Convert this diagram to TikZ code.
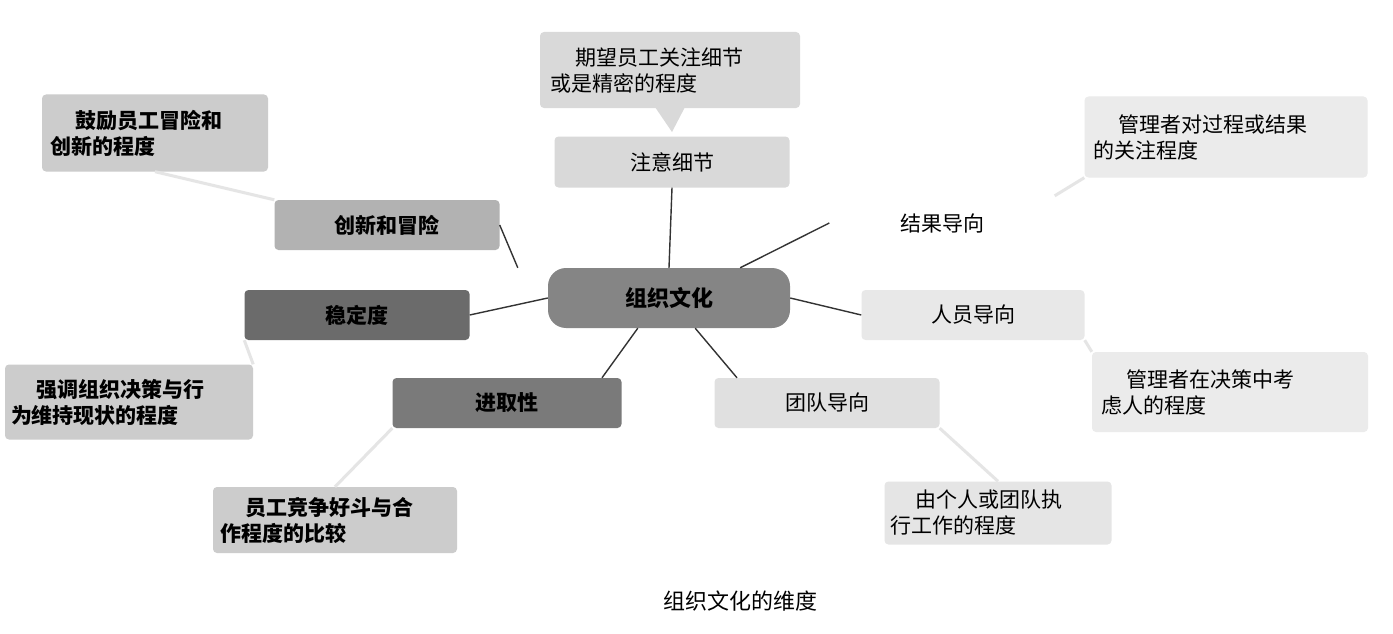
\documentclass[tikz,border=0pt]{standalone}
\usepackage{fontspec}
\setmainfont{Noto Sans CJK SC}
\usetikzlibrary{shapes.callouts}
\begin{document}
\begin{tikzpicture}[x=1pt,y=-1pt,
  box/.style={rounded corners=4pt,inner sep=0pt,font=\fontsize{21}{26}\selectfont,align=left},
  dim/.style={box,text width=#1-20pt,inner xsep=10pt},
  link/.style={line width=1.4pt,black!80},
  faint/.style={line width=3pt,black!10}]
\useasboundingbox[fill=white] (0,0) rectangle (1393,634);
% main boxes
\node[box,fill=black!48,rounded corners=18pt,minimum width=242pt,minimum height=60pt,font=\fontsize{22}{26}\selectfont\bfseries] (c) at (669,298) {组织文化};
\node[box,fill=black!15,minimum width=235pt,minimum height=51pt] (zy) at (672,162) {注意细节};
\node[box,fill=black!30,minimum width=225pt,minimum height=50pt,font=\fontsize{21}{26}\selectfont\bfseries] (cx) at (387,225) {创新和冒险};
\node[box,fill=black!58,minimum width=225pt,minimum height=50pt,font=\fontsize{21}{26}\selectfont\bfseries] (wd) at (357,315) {稳定度};
\node[box,fill=black!52,minimum width=229pt,minimum height=50pt,font=\fontsize{21}{26}\selectfont\bfseries] (jq) at (507,403) {进取性};
\node[box,fill=white,minimum width=225pt,minimum height=54pt] (jg) at (942,223) {结果导向};
\node[box,fill=black!9,minimum width=223pt,minimum height=50pt] (ry) at (973,315) {人员导向};
\node[box,fill=black!12,minimum width=225pt,minimum height=50pt] (td) at (827,403) {团队导向};
% descriptions
\node[box,fill=black!15,minimum width=260pt,minimum height=76pt,text width=240pt] (d1) at (670,70) {\hspace*{1.2em}期望员工关注细节\\或是精密的程度};
\fill[black!15] (655,107) -- (685,107) -- (672,132) -- cycle;
\node[box,fill=black!20,minimum width=226pt,minimum height=77pt,text width=210pt] (d2) at (155,133) {\hspace*{1.2em}\textbf{鼓励员工冒险和}\\\textbf{创新的程度}};
\node[box,fill=black!20,minimum width=248pt,minimum height=75pt,text width=236pt] (d3) at (129,402) {\hspace*{1.2em}\textbf{强调组织决策与行}\\\textbf{为维持现状的程度}};
\node[box,fill=black!20,minimum width=244pt,minimum height=66pt,text width=230pt] (d4) at (335,520) {\hspace*{1.2em}\textbf{员工竞争好斗与合}\\\textbf{作程度的比较}};
\node[box,fill=black!8,minimum width=283pt,minimum height=81pt,text width=265pt] (d5) at (1226,137) {\hspace*{1.2em}管理者对过程或结果\\的关注程度};
\node[box,fill=black!8,minimum width=276pt,minimum height=80pt,text width=258pt] (d6) at (1230,392) {\hspace*{1.2em}管理者在决策中考\\虑人的程度};
\node[box,fill=black!10,minimum width=227pt,minimum height=63pt,text width=215pt] (d7) at (998,513) {\hspace*{1.2em}由个人或团队执\\行工作的程度};
% faint links
\draw[faint] (d2.south) -- (cx.north west);
\draw[faint] (d3.north east) -- (wd.south west);
\draw[faint] (d4.north) -- (jq.south west);
\draw[faint] (d5.south west) -- (jg.north east);
\draw[faint] (d6.north west) -- (ry.south east);
\draw[faint] (d7.north) -- (td.south east);
% connectors
\draw[link] (zy.south) -- (c.north);
\draw[link] (cx.east) -- ([xshift=-30pt]c.north west);
\draw[link] (wd.east) -- (c.west);
\draw[link] ([xshift=95pt]jq.north) -- ([xshift=90pt]c.south west);
\draw[link] ([xshift=-90pt]td.north) -- ([xshift=-95pt]c.south east);
\draw[link] (ry.west) -- (c.east);
\draw[link] (jg.west) -- ([xshift=-50pt]c.north east);
\node[font=\fontsize{22}{26}\selectfont] (cap) at (740,601) {组织文化的维度};
\end{tikzpicture}
\end{document}
